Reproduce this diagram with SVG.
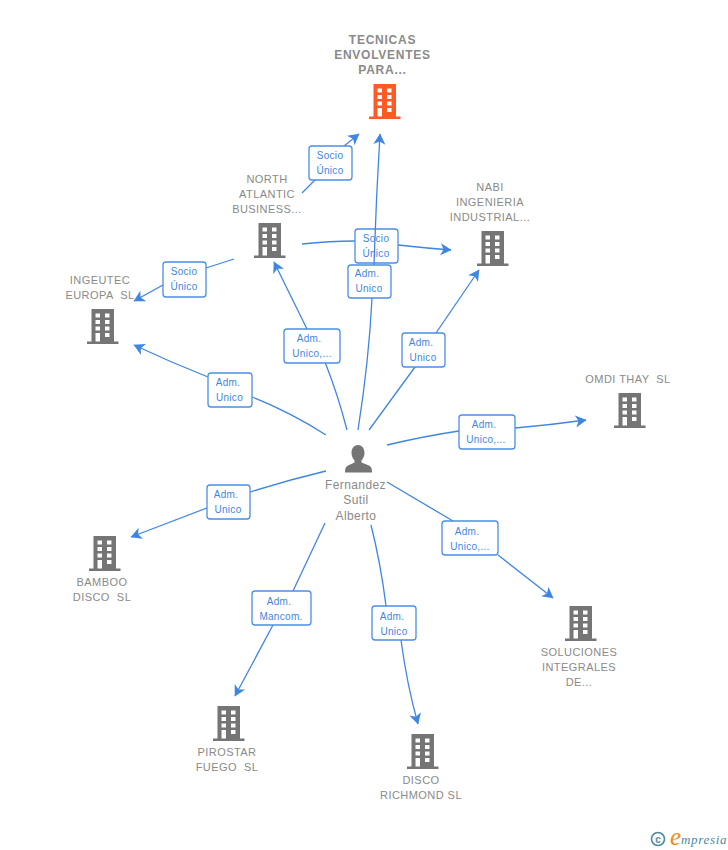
<svg xmlns="http://www.w3.org/2000/svg" width="728" height="850" viewBox="0 0 728 850">
<style>
text{font-family:"Liberation Sans",Arial,sans-serif}
.n{font-size:11px;fill:#8a8a8a;text-anchor:middle;letter-spacing:.45px}
.b{font-weight:bold;font-size:12px;letter-spacing:.75px}
.p{font-size:12px;letter-spacing:.4px}
.e{fill:none;stroke:#3f86e0;stroke-width:1.3}
.a{marker-end:url(#arr)}
.l rect{fill:#fff;stroke:#4a8fe6;stroke-width:1.3}
.l text{font-size:10px;fill:#3f86e0;text-anchor:middle;letter-spacing:.3px}
</style>
<defs>
<marker id="arr" markerUnits="userSpaceOnUse" markerWidth="14" markerHeight="14" refX="10.500" refY="6" orient="auto" viewBox="0 0 14 12">
<path d="M0,0 L11,6 L0,12 L3,6 Z" fill="#3f86e0"/>
</marker>
<path id="bld" fill-rule="evenodd" d="M4.500,0H27V32.500H31.500V35H0V32.500H4.500ZM8.500,4.500V8.500H13V4.500ZM18,4.500V8.500H22.500V4.500ZM8.500,11V15H13V11ZM18,11V15H22.500V11ZM8.500,17.500V21.500H13V17.500ZM18,17.500V21.500H22.500V17.500ZM8.500,24V32.500H13V24ZM18,24V28H22.500V24Z"/>
</defs>
<rect width="728" height="850" fill="#fff"/>
<g id="connectors">
<path class="e" d="M302,193L324,171"/><path class="e a" d="M344,146L359,134"/>
<g class="l"><rect x="309" y="146" width="43" height="34" rx="3"/><text x="330" y="159">Socio</text><text x="330" y="174">Único</text></g>
<path class="e" d="M302,244Q330,241 355,241"/><path class="e a" d="M398,245Q425,248 451,250"/>
<g class="l"><rect x="355" y="229" width="43" height="34" rx="3"/><text x="376" y="242">Socio</text><text x="376" y="257">Único</text></g>
<path class="e" d="M358,430Q369,360 372,298"/><path class="e a" d="M374,265Q376,200 380,134"/>
<g class="l"><rect x="348" y="265" width="43" height="33" rx="3"/><text x="367" y="277">Adm.</text><text x="369" y="292">Unico</text></g>
<path class="e" d="M234,259L206,268"/><path class="e a" d="M163,285L134,301"/>
<g class="l"><rect x="163" y="262" width="43" height="35" rx="3"/><text x="184" y="275">Socio</text><text x="184" y="290">Único</text></g>
<path class="e" d="M326,435Q290,412 252,397"/><path class="e a" d="M208,377Q170,362 134,345"/>
<g class="l"><rect x="208" y="373" width="44" height="34" rx="3"/><text x="228" y="386">Adm.</text><text x="229.500" y="401">Unico</text></g>
<path class="e" d="M347,430Q338,395 325,362"/><path class="e a" d="M307,329L274,262"/>
<g class="l"><rect x="284" y="329" width="56" height="34" rx="3"/><text x="309" y="342">Adm.</text><text x="312" y="357">Unico,...</text></g>
<path class="e" d="M369,430L415,367"/><path class="e a" d="M436,333L479,270"/>
<g class="l"><rect x="402" y="333" width="43" height="34" rx="3"/><text x="421" y="346">Adm.</text><text x="423" y="361">Unico</text></g>
<path class="e" d="M387,445Q425,436 459,431"/><path class="e a" d="M515,428Q550,425 586,420"/>
<g class="l"><rect x="459" y="415" width="56" height="34" rx="3"/><text x="484" y="428">Adm.</text><text x="486" y="443">Unico,...</text></g>
<path class="e" d="M326,471Q288,480 250,492"/><path class="e a" d="M207,508L131,537"/>
<g class="l"><rect x="207" y="485" width="43" height="34" rx="3"/><text x="226" y="498">Adm.</text><text x="228" y="513">Unico</text></g>
<path class="e" d="M387,482L453,521"/><path class="e a" d="M498,555L553,598"/>
<g class="l"><rect x="442" y="521" width="56" height="34" rx="3"/><text x="467" y="535">Adm.</text><text x="470" y="550">Unico,...</text></g>
<path class="e" d="M325,523L293,591"/><path class="e a" d="M273,625L235,696"/>
<g class="l"><rect x="252" y="591" width="59" height="34" rx="3"/><text x="279" y="605">Adm.</text><text x="281" y="620">Mancom.</text></g>
<path class="e" d="M371,525Q381,565 386,606"/><path class="e a" d="M401,640Q407,685 418,724"/>
<g class="l"><rect x="372" y="606" width="44" height="34" rx="3"/><text x="392" y="620">Adm.</text><text x="394" y="635">Unico</text></g>
</g>
<g id="n-tecnicas"><use href="#bld" x="369" y="84" fill="#ff5a26"/><text class="n b" x="382.500" y="44">TECNICAS</text><text class="n b" x="382.500" y="59">ENVOLVENTES</text><text class="n b" x="382.500" y="74">PARA...</text></g>
<g id="n-north"><use href="#bld" x="254" y="223" fill="#757575"/><text class="n" x="267" y="183">NORTH</text><text class="n" x="267" y="198">ATLANTIC</text><text class="n" x="267" y="213">BUSINESS...</text></g>
<g id="n-nabi"><use href="#bld" x="477" y="231" fill="#757575"/><text class="n" x="490" y="191">NABI</text><text class="n" x="490" y="206">INGENIERIA</text><text class="n" x="490" y="221">INDUSTRIAL...</text></g>
<g id="n-ingeutec"><use href="#bld" x="87" y="309" fill="#757575"/><text class="n" x="100" y="284">INGEUTEC</text><text class="n" x="100" y="299" xml:space="preserve">EUROPA  SL</text></g>
<g id="n-omdi"><use href="#bld" x="614" y="393" fill="#757575"/><text class="n" x="628" y="383" xml:space="preserve">OMDI THAY  SL</text></g>
<g id="n-bamboo"><use href="#bld" x="89" y="536" fill="#757575"/><text class="n" x="102" y="586">BAMBOO</text><text class="n" x="102" y="601" xml:space="preserve">DISCO  SL</text></g>
<g id="n-soluciones"><use href="#bld" x="565" y="606" fill="#757575"/><text class="n" x="579" y="656">SOLUCIONES</text><text class="n" x="579" y="671">INTEGRALES</text><text class="n" x="579" y="686">DE...</text></g>
<g id="n-pirostar"><use href="#bld" x="213" y="706" fill="#757575"/><text class="n" x="227" y="756">PIROSTAR</text><text class="n" x="227" y="771" xml:space="preserve">FUEGO  SL</text></g>
<g id="n-disco"><use href="#bld" x="407" y="734" fill="#757575"/><text class="n" x="421" y="784">DISCO</text><text class="n" x="421" y="799">RICHMOND SL</text></g>
<g id="n-fernandez"><path fill="#757575" d="M358,445C362.500,445 364.500,449 364.500,453C364.500,456 363,459 361.500,460.500V462.500L369,465.500C371,466.500 372,468 372,472.500H345C345,468 346,466.500 348,465.500L354.500,462.500V460.500C353,459 351.500,456 351.500,453C351.500,449 353.500,445 358,445Z"/><text class="n p" x="355.500" y="489">Fernandez</text><text class="n p" x="356" y="504">Sutil</text><text class="n p" x="356" y="520">Alberto</text></g>
<g id="logo"><circle cx="658" cy="839" r="6.500" fill="none" stroke="#4a8a9c" stroke-width="1.600"/><text x="658" y="842.500" font-size="10" font-weight="bold" fill="#4a8a9c" text-anchor="middle">c</text><text x="670" y="845" style="font-family:'Liberation Serif',serif" font-size="25" font-style="italic" fill="#f08a24">e</text><text x="681" y="844" style="font-family:'Liberation Serif',serif" font-size="13" font-style="italic" fill="#4a8a9c" letter-spacing=".7">mpresia</text></g>
</svg>
